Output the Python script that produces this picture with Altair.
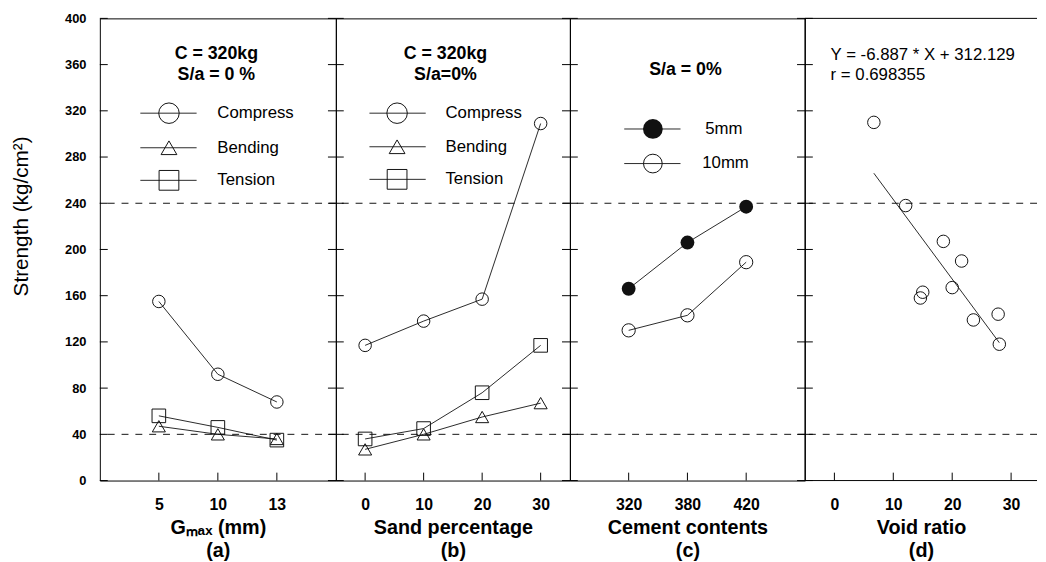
import altair as alt
import pandas as pd

# ---------------- data ----------------
series_abc = ["Compress", "Bending", "Tension"]

gmax_labels = ["5", "10", "13"]
a_compress = [155, 92, 68]
a_bending = [47, 40, 36]
a_tension = [56, 46, 35]

sand_pct = [0, 10, 20, 30]
b_compress = [117, 138, 157, 309]
b_bending = [27, 40, 55, 67]
b_tension = [36, 45, 76, 117]

cement_labels = ["320", "380", "420"]
c_series = ["5mm", "10mm"]
c_5mm = [166, 206, 237]
c_10mm = [130, 143, 189]

void_x = [6.7, 12.1, 18.5, 21.6, 14.6, 15.0, 20.0, 23.6, 27.8, 28.0]
void_y = [310, 238, 207, 190, 158, 163, 167, 139, 144, 118]
void_ticks = [0, 10, 20, 30]
slope = -6.887
intercept = 312.129
r_value = 0.698355

ref_levels = [40, 240]
y_ticks = list(range(0, 401, 40))

title_a = ["C = 320kg", "S/a = 0 %"]
title_b = ["C = 320kg", "S/a=0%"]
title_c = ["S/a = 0%"]
eq_lines = [f"Y = {slope} * X + {intercept}", f"r = {r_value}"]

xtitle_a = ["Gₘₐₓ (mm)", "(a)"]
xtitle_b = ["Sand percentage", "(b)"]
xtitle_c = ["Cement contents", "(c)"]
xtitle_d = ["Void ratio", "(d)"]
ytitle = "Strength (kg/cm²)"

FONT = "Liberation Sans"
H = 468
WD = 235
INK = "#111111"

# ---------------- helpers ----------------
def y_enc(field, first=False):
    if first:
        ax = alt.Axis(values=y_ticks, orient="left", ticks=False, domain=False,
                      grid=False, labelPadding=14, labelFontSize=13, labelFontWeight="bold",
                      labelFont=FONT, labelColor="black",
                      title=ytitle, titleFontSize=21, titleFontWeight="normal",
                      titleFont=FONT, titlePadding=34, titleColor="black", titleY=200)
    else:
        ax = None
    return alt.Y(field, scale=alt.Scale(domain=[0, 400], nice=False, zero=False), axis=ax)


def x_axis(title, values=None):
    kw = dict(orient="bottom", ticks=False, domain=False, grid=False,
              labelPadding=16, labelFontSize=16, labelFontWeight="bold", labelFont=FONT,
              labelColor="black", labelAngle=0,
              title=title, titleFontSize=20, titleFontWeight="bold", titleFont=FONT,
              titlePadding=6, titleLineHeight=23, titleColor="black")
    if values is not None:
        kw["values"] = values
    return alt.Axis(**kw)


one = alt.Data(values=[{"k": 1}])


def ref_rules(first):
    df = pd.DataFrame({"ref": ref_levels})
    return alt.Chart(df).mark_rule(color=INK, strokeWidth=1, strokeDash=[7, 7]).encode(
        y=y_enc("ref:Q", first)
    )


def y_tick_marks(first):
    df = pd.DataFrame({"t": y_ticks})
    x0 = 0 if first else -8
    return alt.Chart(df).mark_rule(color="black", strokeWidth=1).encode(
        y=y_enc("t:Q", first), x=alt.value(x0), x2=alt.value(8))


def x_tick_marks(xenc, field, values):
    df = pd.DataFrame({field: values})
    return alt.Chart(df).mark_rule(color="black", strokeWidth=1).encode(
        x=xenc, y=alt.value(H - 8), y2=alt.value(H))


def legend_entry(x0, x1, xs, y, shape, size, filled, label, xt):
    rule = alt.Chart(one).mark_rule(color=INK, strokeWidth=0.9).encode(
        x=alt.value(x0), x2=alt.value(x1), y=alt.value(y))
    pkw = dict(shape=shape, size=size, filled=filled, color=INK, strokeWidth=1, opacity=1)
    pt = alt.Chart(one).mark_point(**pkw).encode(x=alt.value(xs), y=alt.value(y))
    txt = alt.Chart(one).mark_text(align="left", baseline="middle", font=FONT,
                                   fontSize=17, color="black").encode(
        x=alt.value(xt), y=alt.value(y), text=alt.value(label))
    return [rule, pt, txt]


def note(lines, x, y0, dy, size, weight, align):
    out = []
    for i, t in enumerate(lines):
        out.append(alt.Chart(one).mark_text(align=align, baseline="middle", font=FONT,
                                            fontSize=size, fontWeight=weight,
                                            color="black").encode(
            x=alt.value(x), y=alt.value(y0 + i * dy), text=alt.value(t)))
    return out


def open_frame(w):
    # left, top and bottom edges only (right edge is cut off in the original)
    left = alt.Chart(one).mark_rule(color="black", strokeWidth=1).encode(
        x=alt.value(0), y=alt.value(0), y2=alt.value(H))
    top = alt.Chart(one).mark_rule(color="black", strokeWidth=1).encode(
        x=alt.value(0), x2=alt.value(w), y=alt.value(0))
    bottom = alt.Chart(one).mark_rule(color="black", strokeWidth=1).encode(
        x=alt.value(0), x2=alt.value(w), y=alt.value(H))
    return [left, top, bottom]


shape_abc = alt.Scale(domain=series_abc, range=["circle", "triangle-up", "square"])
size_abc = alt.Scale(domain=series_abc, range=[160, 190, 220])

# ---------------- panel a ----------------
df_a = pd.DataFrame({
    "g": gmax_labels * 3,
    "series": [s for s in series_abc for _ in gmax_labels],
    "v": a_compress + a_bending + a_tension,
})
xa = alt.X("g:O", sort=gmax_labels, scale=alt.Scale(type="point", padding=1),
           axis=x_axis(xtitle_a))
base_a = alt.Chart(df_a)
line_a = base_a.mark_line(color=INK, strokeWidth=0.9).encode(
    x=xa, y=y_enc("v:Q", True), detail="series:N")
pts_a = base_a.mark_point(filled=False, color=INK, strokeWidth=1, opacity=1).encode(
    x=xa, y=y_enc("v:Q", True),
    shape=alt.Shape("series:N", scale=shape_abc, legend=None),
    size=alt.Size("series:N", scale=size_abc, legend=None))
leg_a = []
for lab, shp, sz, yy in zip(series_abc, ["circle", "triangle-up", "square"], [430, 256, 400], [96, 131, 164]):
    leg_a += legend_entry(41, 98, 70, yy, shp, sz, False, lab, 119)
panel_a = alt.layer(ref_rules(True), y_tick_marks(True), x_tick_marks(xa, "g", gmax_labels),
                    line_a, pts_a, *leg_a,
                    *note(title_a, 118, 36, 21, 18, "bold", "center")).properties(width=239, height=H)

# ---------------- panel b ----------------
df_b = pd.DataFrame({
    "s": sand_pct * 3,
    "series": [s for s in series_abc for _ in sand_pct],
    "v": b_compress + b_bending + b_tension,
})
xb = alt.X("s:Q", scale=alt.Scale(domain=[-5, 35], nice=False, zero=False),
           axis=x_axis(xtitle_b, sand_pct))
base_b = alt.Chart(df_b)
line_b = base_b.mark_line(color=INK, strokeWidth=0.9).encode(
    x=xb, y=y_enc("v:Q"), detail="series:N")
pts_b = base_b.mark_point(filled=False, color=INK, strokeWidth=1, opacity=1).encode(
    x=xb, y=y_enc("v:Q"),
    shape=alt.Shape("series:N", scale=shape_abc, legend=None),
    size=alt.Size("series:N", scale=size_abc, legend=None))
leg_b = []
for lab, shp, sz, yy in zip(series_abc, ["circle", "triangle-up", "square"], [430, 256, 400], [96, 130, 163]):
    leg_b += legend_entry(34, 91, 62, yy, shp, sz, False, lab, 111)
panel_b = alt.layer(ref_rules(False), y_tick_marks(False), x_tick_marks(xb, "s", sand_pct),
                    line_b, pts_b, *leg_b,
                    *note(title_b, 111, 36, 21, 18, "bold", "center")).properties(width=237, height=H)

# ---------------- panel c ----------------
df_c = pd.DataFrame({
    "c": cement_labels * 2,
    "series": [s for s in c_series for _ in cement_labels],
    "v": c_5mm + c_10mm,
})
xc = alt.X("c:O", sort=cement_labels, scale=alt.Scale(type="point", padding=1),
           axis=x_axis(xtitle_c))
base_c = alt.Chart(df_c)
line_c = base_c.mark_line(color=INK, strokeWidth=0.9).encode(
    x=xc, y=y_enc("v:Q"), detail="series:N")
pts_c5 = base_c.transform_filter(alt.datum.series == c_series[0]).mark_point(
    filled=True, color=INK, size=196, opacity=1).encode(x=xc, y=y_enc("v:Q"))
pts_c10 = base_c.transform_filter(alt.datum.series == c_series[1]).mark_point(
    filled=False, color=INK, size=180, strokeWidth=1, opacity=1).encode(x=xc, y=y_enc("v:Q"))
leg_c = []
leg_c += legend_entry(55, 112, 84, 112, "circle", 400, True, c_series[0], 137)
leg_c += legend_entry(55, 112, 84, 147, "circle", 360, False, c_series[1], 134)
panel_c = alt.layer(ref_rules(False), y_tick_marks(False), x_tick_marks(xc, "c", cement_labels),
                    line_c, pts_c5, pts_c10, *leg_c,
                    *note(title_c, 117, 52, 21, 18, "bold", "center")).properties(width=238, height=H)

# ---------------- panel d ----------------
df_d = pd.DataFrame({"x": void_x, "y": void_y})
fit_x = [min(void_x), max(void_x)]
df_fit = pd.DataFrame({"x": fit_x, "y": [slope * v + intercept for v in fit_x]})
xd = alt.X("x:Q", scale=alt.Scale(domain=[-5, 34.4], nice=False, zero=False),
           axis=x_axis(xtitle_d, void_ticks))
pts_d = alt.Chart(df_d).mark_point(filled=False, color=INK, size=160, strokeWidth=1,
                                   opacity=1).encode(x=xd, y=y_enc("y:Q"))
fit_d = alt.Chart(df_fit).mark_line(color=INK, strokeWidth=0.9).encode(x=xd, y=y_enc("y:Q"))
panel_d = alt.layer(ref_rules(False), y_tick_marks(False), x_tick_marks(xd, "x", void_ticks),
                    fit_d, pts_d, *open_frame(WD),
                    *note(eq_lines, 26, 37, 20, 17, "normal", "left")).properties(
    width=WD, height=H, view=alt.ViewConfig(stroke=None))

chart = alt.hconcat(panel_a, panel_b, panel_c, panel_d, spacing=0, bounds="flush").properties(
    padding={"left": 1, "top": 0, "right": 0, "bottom": 0}, background="white"
).configure_view(stroke="black", strokeWidth=1)

chart.save("out.html", embed_options={"renderer": "svg", "actions": False})
